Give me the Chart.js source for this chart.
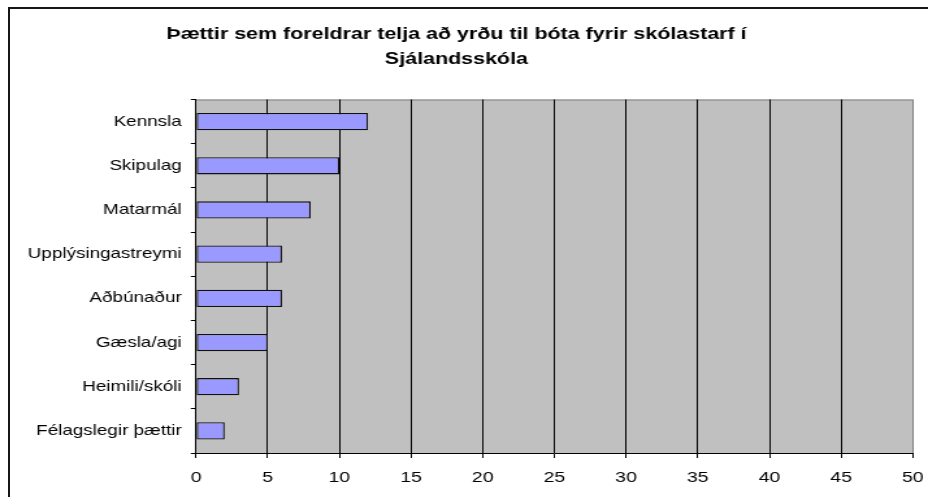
<!DOCTYPE html>
<html>
<head>
<meta charset="utf-8">
<script src="https://cdn.jsdelivr.net/npm/chart.js@4.4.0/dist/chart.umd.min.js"></script>
<style>
  html, body { margin: 0; padding: 0; background: #fff; overflow: hidden; }
  #wrap { position: relative; width: 928px; height: 497px; }
  #frame {
    position: absolute; left: 8px; top: 7px; width: 960px; height: 520px;
    border: 2px solid #161616; pointer-events: none;
  }
  canvas { position: absolute; left: 0; top: 0; }
</style>
</head>
<body>
<div id="wrap">
  <canvas id="chart" width="714" height="497" style="width:928px;height:497px"></canvas>
  <div id="frame"></div>
</div>
<script>
const titleLines = ["Þættir sem foreldrar telja að yrðu til bóta fyrir skólastarf í", "Sjálandsskóla"]
const categories = [
  "Kennsla", "Skipulag", "Matarmál", "Upplýsingastreymi",
  "Aðbúnaður", "Gæsla/agi", "Heimili/skóli", "Félagslegir þættir"
]
const counts = [12, 10, 8, 6, 6, 5, 3, 2]
const xMin = 0
const xMax = 50
const xStep = 5

// the original is stretched sideways, so the canvas is drawn narrow and widened by css
const fontFamily = "'Liberation Sans', Arial, sans-serif"

const plotBackground = {
  id: "plotBackground",
  beforeDraw(chart) {
    const { ctx, chartArea } = chart
    ctx.save()
    ctx.fillStyle = "#c0c0c0"
    ctx.fillRect(chartArea.left, chartArea.top, chartArea.right - chartArea.left, chartArea.bottom - chartArea.top)
    ctx.strokeStyle = "#808080"
    ctx.lineWidth = 1
    ctx.beginPath()
    ctx.moveTo(chartArea.left, chartArea.top + 0.5)
    ctx.lineTo(chartArea.right, chartArea.top + 0.5)
    ctx.stroke()
    ctx.restore()
  }
}

new Chart(document.getElementById("chart"), {
  type: "bar",
  data: {
    labels: categories,
    datasets: [{
      data: counts,
      backgroundColor: "#9999ff",
      borderColor: "#111",
      borderWidth: 1.3,
      borderSkipped: false,
      barPercentage: 0.39,
      categoryPercentage: 1
    }]
  },
  options: {
    indexAxis: "y",
    responsive: false,
    animation: false,
    layout: { padding: { left: 0, right: 11.7, top: 0, bottom: 0 } },
    plugins: {
      legend: { display: false },
      tooltip: { enabled: false },
      title: {
        display: true,
        text: titleLines,
        color: "#000",
        font: { family: fontFamily, size: 16.5, weight: "bold", lineHeight: 1.5 },
        padding: { top: 22, bottom: 28 }
      }
    },
    scales: {
      x: {
        type: "linear",
        min: xMin,
        max: xMax,
        afterFit(scale) {
          scale.height = 44
          scale.paddingLeft = 0
          scale.paddingRight = 0
        },
        ticks: {
          stepSize: xStep,
          color: "#000",
          padding: 11,
          font: { family: fontFamily, size: 15 }
        },
        grid: {
          color: (c) => (c.tick && c.tick.value === xMax ? "#808080" : "#000"),
          tickColor: "#000",
          lineWidth: 1,
          tickLength: 5
        },
        border: { display: true, color: "#000", width: 1 }
      },
      y: {
        afterFit(scale) { scale.width = 150.8 },
        ticks: {
          color: "#000",
          padding: 7,
          font: { family: fontFamily, size: 14.5 }
        },
        grid: {
          offset: true,
          drawOnChartArea: false,
          drawTicks: true,
          tickLength: 4,
          color: "#000"
        },
        border: { display: true, color: "#000", width: 1 }
      }
    }
  },
  plugins: [plotBackground]
})
</script>
</body>
</html>
